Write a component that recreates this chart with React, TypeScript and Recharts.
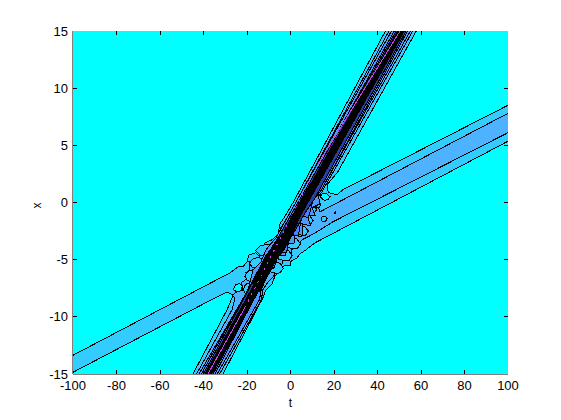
import { Scatter, ScatterChart, XAxis, YAxis } from 'recharts'

const T_TICKS = [-100, -80, -60, -40, -20, 0, 20, 40, 60, 80, 100]
const X_TICKS = [-15, -10, -5, 0, 5, 10, 15]

// contour outlines as [t, x], lowest level first
const BACKGROUND = [[-100, -15], [100, -15], [100, 15], [-100, 15]]

const LEVEL_1 = [
  [-45.8, -15.34], [-29.2, -9.39], [-27.8, -8.78], [-26.4, -8.08], [-29.2, -7.82], [-34.7, -8.34],
  [-102, -15.05], [-102, -13.56], [-27.8, -6.15], [-24.1, -5.62], [-21.8, -5.62], [-20, -5.19],
  [-19.1, -4.58], [-15.9, -4.4], [-14.5, -4.66], [-13.1, -4.14], [-11.7, -3.52], [-8.5, -3.26],
  [-5.7, -2.73], [-4.8, -1.86], [-3, -1.34], [1.15, -0.02], [7.6, 2.25], [13.6, 4.36],
  [44.5, 15.3], [58.7, 15.3], [27.4, 4.62], [21.8, 2.69], [16.8, 1.55], [16.8, 1.12],
  [17.7, 0.85], [21.4, 0.68], [24.1, 1.12], [102, 8.7], [102, 5.56], [14.9, -3.17],
  [11.3, -3.52], [7.1, -4.14], [4.4, -4.49], [3, -4.84], [-0.2, -5.19], [0.2, -5.54],
  [-3, -5.54], [-5.3, -6.06], [-7.1, -6.41], [-8.5, -7.12], [-11.3, -7.64], [-12.7, -8.34],
  [-32, -15.34],
]

const LEVEL_2 = [
  [-44.2, -15.34], [-26.9, -9.39], [-25.5, -8.34], [-26.9, -8.17], [-25.1, -7.82], [-21.8, -7.64],
  [-22.8, -7.03], [-20, -6.68], [-20.5, -6.15], [-18.6, -5.89], [-19.1, -5.19], [-15.9, -4.93],
  [-14.9, -5.28], [-14, -4.58], [-10.8, -4.31], [-9.4, -3.61], [-6.2, -3.09], [-4.4, -2.21],
  [-0.2, -0.9], [46.1, 15.3], [57.1, 15.3], [20.3, 2.87], [16.8, 1.73], [14.5, 0.94],
  [11.7, 0.24], [13.6, -0.81], [102, 8], [102, 6.3], [19.5, -1.69], [13.6, -2.39],
  [9, -2.91], [5.3, -3.26], [3, -3.87], [0.23, -4.14], [0.7, -4.75], [-3, -4.84],
  [-3.9, -5.36], [-6.7, -5.71], [-7.6, -6.41], [-10.3, -6.94], [-12.7, -7.64], [-13.4, -8.51],
  [-33.6, -15.34],
]

const LEVEL_3 = [
  [-43.1, -15.34], [-19.5, -7.64], [-17.2, -5.89], [-13.6, -5.19], [-11.3, -4.14], [-6.7, -3.09],
  [47.3, 15.3], [56, 15.3], [16.8, 1.99], [12.6, 0.68], [13.6, -0.11], [9.9, -0.46],
  [11.3, -1.16], [7.6, -1.16], [9.4, -2.04], [5.3, -1.86], [5.7, -2.91], [2.1, -2.65],
  [1.6, -3.61], [-1.6, -3.53], [-2.5, -4.66], [-5.7, -4.66], [-7.6, -5.71], [-10.3, -6.06],
  [-13.1, -7.29], [-14.3, -8.51], [-34.7, -15.34],
]

const LEVEL_4 = [
  [-42, -15.34], [-17.5, -6.9], [-11.5, -4.7], [-6, -3.3], [48.6, 15.3], [54.7, 15.3],
  [14.2, 1.1], [10.2, 0.1], [8.3, -1.3], [5.2, -1.2], [3.6, -2.9], [-0.3, -2.8],
  [-1.8, -4.4], [-5.4, -4.3], [-8.6, -5.7], [-11.5, -6.5], [-35.6, -15.34],
]

const LEVEL_5 = [
  [-41, -15.34], [-15.5, -6.3], [-9.8, -4.4], [49.5, 15.3], [54, 15.3], [11, 0.3],
  [6.4, -1], [2.6, -2.3], [-2, -3.7], [-6.5, -4.9], [-36.6, -15.34],
]

const LEVEL_6 = [
  [-40.3, -15.34], [-12, -5.5], [50.2, 15.3], [53.2, 15.3], [-37.3, -15.34],
]

const CROSSING_CORE = [
  [-17, -7.1], [-12.5, -5.1], [-7.5, -3.6], [-3, -2.6], [1, -1.1], [5, 0.3], [9, 1.6],
  [8.5, 0.3], [4.5, -1.2], [1, -2.7], [-2.5, -4], [-6.5, -5], [-11, -6.6], [-14, -7.8],
]

// side lobes around the crossing
const LOBE_R1 = [[5.7, -0.3], [8, -0.1], [10.5, -0.25], [12, -0.6], [10.8, -1], [8, -1], [5.7, -0.9]]
const LOBE_R2 = [[3.4, -1.2], [6, -1], [8.8, -1.15], [10.4, -1.55], [9, -1.95], [6, -1.95], [3.4, -1.8]]
const LOBE_R3 = [[1.1, -2.1], [4, -1.95], [6.6, -2.1], [8.2, -2.5], [6.8, -2.9], [4, -2.95], [1.1, -2.8]]
const LOBE_R4 = [[-2, -3.2], [1, -3.05], [3, -3.2], [4.6, -3.6], [3.2, -4], [1, -4.05], [-2, -3.9]]
const LOBE_R5 = [[-5.7, -4.3], [-2.5, -4.1], [-0.7, -4.25], [0.8, -4.65], [-0.6, -5.05], [-2.5, -5.1], [-5.7, -4.95]]
const LOBE_R6 = [[-9.4, -5.4], [-6.5, -5.2], [-4.7, -5.35], [-3.3, -5.75], [-4.8, -6.15], [-6.5, -6.2], [-9.4, -6.05]]
const LOBE_L1 = [[-8.5, -3.8], [-11, -3.65], [-14, -3.8], [-16, -4.2], [-14, -4.6], [-11, -4.65], [-8.5, -4.5]]
const LOBE_L2 = [[-12.2, -4.95], [-15, -4.8], [-17.5, -4.95], [-18.8, -5.3], [-17.5, -5.7], [-15, -5.75], [-12.2, -5.6]]
const LOBE_L3 = [[-15, -6.05], [-17.5, -5.9], [-19.8, -6.05], [-21, -6.45], [-19.8, -6.85], [-17.5, -6.9], [-15, -6.7]]
const LOBE_L4 = [[-17.7, -7.2], [-19.5, -7.05], [-20.8, -7.2], [-21.6, -7.6], [-20.8, -8], [-19.5, -8.05], [-17.7, -7.9]]

const HOLE_RIGHT = [[13.6, 0.5], [14.5, 0.75], [16.3, 0.82], [18.2, 0.5], [17.3, 0.25], [15.5, 0.18]]
const HOLE_LEFT = [[-26.2, -7.6], [-25.3, -7.2], [-23.5, -7.1], [-22.1, -7.3], [-22.9, -7.7], [-24.7, -7.85]]
const HOLE_BAND = [[14, -1.45], [14.7, -1.2], [16.1, -1.2], [16.8, -1.4], [16.1, -1.65], [14.7, -1.65]]
const HOLE_FINGER = [[11.3, -0.2], [12, 0], [13.2, 0], [13.8, -0.25], [13, -0.45], [12, -0.45]]
const HOLE_DOT = [[20.1, -0.9], [20.5, -0.8], [20.9, -0.9], [20.5, -1]]

const RIDGE_UPPER = [[12.5, 3.3], [53.6, 16]]
const RIDGE_LOWER = [[-40.9, -16], [-21, -9.2]]
const RIDGE_MIDDLE = [[-21, -9.2], [12.5, 3.3]]

const LOBES = [LOBE_R1, LOBE_R2, LOBE_R3, LOBE_R4, LOBE_R5, LOBE_R6, LOBE_L1, LOBE_L2, LOBE_L3, LOBE_L4]

const CONTOURS = [
  { name: 'level1', rows: LEVEL_1, fill: '#33ccff' },
  { name: 'level2', rows: LEVEL_2, fill: '#4db2ff' },
  { name: 'holeRight', rows: HOLE_RIGHT, fill: '#00ffff' },
  { name: 'holeLeft', rows: HOLE_LEFT, fill: '#00ffff' },
  { name: 'holeBand', rows: HOLE_BAND, fill: '#33ccff' },
  { name: 'holeFinger', rows: HOLE_FINGER, fill: '#33ccff' },
  { name: 'holeDot', rows: HOLE_DOT, fill: '#000000' },
  ...LOBES.map((rows, i) => ({ name: `lobe${i}`, rows, fill: '#33ccff' })),
  { name: 'level3', rows: LEVEL_3, fill: '#4d99ff' },
  { name: 'level4', rows: LEVEL_4, fill: '#4d80f0' },
  { name: 'level5', rows: LEVEL_5, fill: '#2a3fa0' },
  { name: 'level6', rows: LEVEL_6, fill: '#000000' },
  { name: 'core', rows: CROSSING_CORE, fill: '#000000' },
]

// inward tick marks on all four sides, the axes themselves sit under the filled contours
const TICK_T = 1.84
const TICK_X = 0.35
const TICK_MARKS = [
  ...T_TICKS.slice(1, -1).flatMap((t) => [
    [[t, -15], [t, -15 + TICK_X]],
    [[t, 15], [t, 15 - TICK_X]],
  ]),
  ...X_TICKS.slice(1, -1).flatMap((x) => [
    [[-100, x], [-100 + TICK_T, x]],
    [[100, x], [100 - TICK_T, x]],
  ]),
]

const toPoints = (rows: number[][]) => rows.map(([t, x]) => ({ t, x }))
const closed = (rows: number[][]) => toPoints([...rows, rows[0]])
const noDot = () => null

const tickStyle = { fontSize: 13, fill: '#000', fontFamily: 'Liberation Sans' }
const labelStyle = { fontSize: 12, fill: '#000', fontFamily: 'Liberation Sans' }
const ridgeLine = { stroke: '#d040e8', strokeWidth: 1, fill: 'none', shapeRendering: 'crispEdges' }

export default function App() {
  return (
    <div style={{ position: 'absolute', left: 0, top: 0, background: '#fff' }}>
      <ScatterChart width={561} height={420} margin={{ top: 31, right: 53, bottom: 26, left: 33 }}>
        <Scatter data={closed(BACKGROUND)} shape={noDot} line={{ stroke: 'none', fill: '#00ffff' }} isAnimationActive={false} />
        {CONTOURS.map((c) => (
          <Scatter
            key={c.name}
            data={closed(c.rows)}
            shape={noDot}
            line={{ stroke: '#000', strokeWidth: 1, fill: c.fill, shapeRendering: 'crispEdges' }}
            isAnimationActive={false}
          />
        ))}
        <Scatter data={toPoints(RIDGE_UPPER)} shape={noDot} line={ridgeLine} isAnimationActive={false} />
        <Scatter data={toPoints(RIDGE_LOWER)} shape={noDot} line={ridgeLine} isAnimationActive={false} />
        <Scatter data={toPoints(RIDGE_MIDDLE)} shape={noDot} line={{ ...ridgeLine, strokeDasharray: '2 5' }} isAnimationActive={false} />
        {TICK_MARKS.map((rows) => (
          <Scatter
            key={rows.join('-')}
            data={toPoints(rows)}
            shape={noDot}
            line={{ stroke: '#000', strokeWidth: 1, fill: 'none', shapeRendering: 'crispEdges' }}
            isAnimationActive={false}
          />
        ))}
        <XAxis
          type="number"
          dataKey="t"
          domain={[-100, 100]}
          ticks={T_TICKS}
          interval={0}
          allowDataOverflow
          height={20}
          tickLine={false}
          tickSize={0}
          tickMargin={7}
          tick={tickStyle}
          stroke="#000"
          label={{ value: 't', position: 'bottom', offset: 4, style: labelStyle }}
        />
        <YAxis
          type="number"
          dataKey="x"
          domain={[-15, 15]}
          ticks={X_TICKS}
          interval={0}
          allowDataOverflow
          width={40}
          tickLine={false}
          tickSize={0}
          tickMargin={5}
          tick={tickStyle}
          stroke="#000"
          label={{ value: 'x', angle: -90, position: 'left', offset: -4, style: labelStyle }}
        />
        <XAxis xAxisId="top" orientation="top" type="number" domain={[-100, 100]} ticks={T_TICKS} height={0} tickLine={false} tick={false} stroke="#000" />
        <YAxis yAxisId="right" orientation="right" type="number" domain={[-15, 15]} ticks={X_TICKS} width={0} tickLine={false} tick={false} stroke="#000" />
      </ScatterChart>
    </div>
  )
}
